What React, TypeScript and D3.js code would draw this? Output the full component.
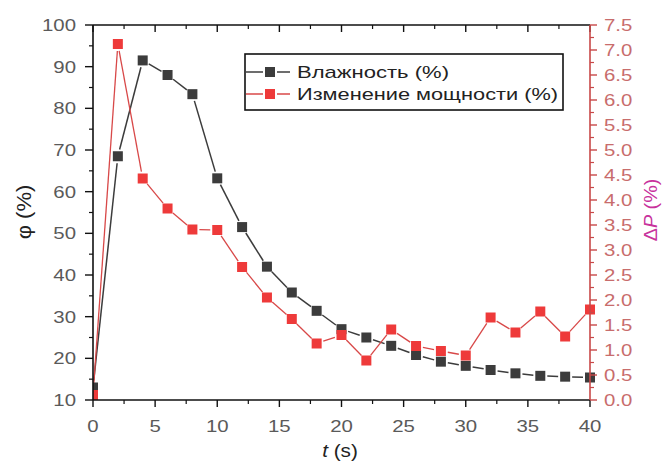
import React from "react";
import * as d3 from "d3";

const timeS = [0, 2, 4, 6, 8, 10, 12, 14, 16, 18, 20, 22, 24, 26, 28, 30, 32, 34, 36, 38, 40];
const humidity = [13, 68.5, 91.5, 88, 83.4, 63.2, 51.5, 42, 35.8, 31.4, 27, 25, 23, 20.8, 19.2, 18.2, 17.2, 16.4, 15.8, 15.6, 15.4];
const powerChange = [0.1, 7.12, 4.43, 3.83, 3.41, 3.4, 2.66, 2.05, 1.62, 1.13, 1.3, 0.79, 1.41, 1.08, 0.98, 0.89, 1.65, 1.35, 1.77, 1.27, 1.81];
const xTicks = [0, 5, 10, 15, 20, 25, 30, 35, 40];
const leftTicks = [10, 20, 30, 40, 50, 60, 70, 80, 90, 100];
const rightTicks = [0, 0.5, 1, 1.5, 2, 2.5, 3, 3.5, 4, 4.5, 5, 5.5, 6, 6.5, 7, 7.5];
const legendLabels = ["Влажность (%)", "Изменение мощности (%)"];

const W = 668, H = 465;
const L = 93, R = 590, T = 25, B = 400;
const FONT = "'Liberation Sans', Arial, sans-serif";
const SX = 1.2;

const x = d3.scaleLinear().domain([0, 40]).range([L, R]);
const yL = d3.scaleLinear().domain([10, 100]).range([B, T]);
const yR = d3.scaleLinear().domain([0, 7.5]).range([B, T]);

function gapSegments(pts: [number, number][], gap: number) {
  const segs: string[] = [];
  for (let i = 0; i < pts.length - 1; i++) {
    const [x1, y1] = pts[i];
    const [x2, y2] = pts[i + 1];
    const dx = x2 - x1, dy = y2 - y1;
    const len = Math.hypot(dx, dy);
    if (len <= 2 * gap) continue;
    const ux = dx / len, uy = dy / len;
    segs.push(`M${x1 + ux * gap},${y1 + uy * gap}L${x2 - ux * gap},${y2 - uy * gap}`);
  }
  return segs;
}

function SText({ x: tx, y: ty, anchor, size, fill, children }: any) {
  return (
    <text transform={`translate(${tx},${ty}) scale(${SX},1)`} textAnchor={anchor} fontSize={size} fill={fill} fontFamily={FONT}>
      {children}
    </text>
  );
}

export default function App() {
  const blackPts: [number, number][] = timeS.map((t, i) => [x(t), yL(humidity[i])]);
  const redPts: [number, number][] = timeS.map((t, i) => [x(t), yR(powerChange[i])]);
  const minorX = d3.range(2.5, 40, 5);
  const minorL = d3.range(15, 100, 10);
  const minorR = d3.range(0.25, 7.5, 0.5);
  const black = "#3c3c3c";
  const red = "#ee3a3a";
  const redAxis = "#c84848";
  const ms = 10;

  return (
    <svg width={W} height={H} style={{ position: "absolute", left: 0, top: 0, background: "#fff" }}>
      <defs>
        <clipPath id="plotClip">
          <rect x={L} y={T - 6} width={R - L + 6} height={B - T + 6} />
        </clipPath>
      </defs>
      <rect width={W} height={H} fill="#fff" />
      {/* series */}
      <g clipPath="url(#plotClip)">
        {gapSegments(blackPts, ms / 2 + 2).map((d, i) => (
          <path key={"bs" + i} d={d} stroke={black} strokeWidth={1.5} fill="none" />
        ))}
        {gapSegments(redPts, ms / 2 + 2).map((d, i) => (
          <path key={"rs" + i} d={d} stroke="#d84848" strokeWidth={1.3} fill="none" />
        ))}
        {blackPts.map(([px, py], i) => (
          <rect key={"bm" + i} x={px - ms / 2} y={py - ms / 2} width={ms} height={ms} fill={black} />
        ))}
        {redPts.map(([px, py], i) => (
          <rect key={"rm" + i} x={px - ms / 2} y={py - ms / 2} width={ms} height={ms} fill={red} />
        ))}
      </g>
      {/* bottom axis */}
      <line x1={L} x2={R} y1={B} y2={B} stroke="#111" strokeWidth={1.6} />
      {xTicks.map((t) => (
        <line key={"bx" + t} x1={x(t)} x2={x(t)} y1={B} y2={B + 7} stroke="#111" strokeWidth={1.4} />
      ))}
      {minorX.map((t) => (
        <line key={"bmx" + t} x1={x(t)} x2={x(t)} y1={B} y2={B + 4} stroke="#111" strokeWidth={1.2} />
      ))}
      {xTicks.map((t) => (
        <SText key={"bl" + t} x={x(t)} y={432} anchor="middle" size={17} fill="#5a5a5a">{t}</SText>
      ))}
      {/* top axis */}
      <line x1={L} x2={R} y1={T} y2={T} stroke="#111" strokeWidth={1.6} />
      {xTicks.map((t) => (
        <line key={"tx" + t} x1={x(t)} x2={x(t)} y1={T} y2={T + 7} stroke="#111" strokeWidth={1.4} />
      ))}
      {minorX.map((t) => (
        <line key={"tmx" + t} x1={x(t)} x2={x(t)} y1={T} y2={T + 4} stroke="#111" strokeWidth={1.2} />
      ))}
      {/* left axis */}
      <line x1={L} x2={L} y1={T} y2={B} stroke="#111" strokeWidth={1.6} />
      {leftTicks.map((v) => (
        <line key={"ly" + v} x1={L - 8} x2={L} y1={yL(v)} y2={yL(v)} stroke="#111" strokeWidth={1.4} />
      ))}
      {minorL.map((v) => (
        <line key={"lmy" + v} x1={L - 4} x2={L} y1={yL(v)} y2={yL(v)} stroke="#111" strokeWidth={1.2} />
      ))}
      {leftTicks.map((v) => (
        <SText key={"ll" + v} x={76} y={yL(v) + 6} anchor="end" size={17} fill="#5a5a5a">{v}</SText>
      ))}
      <text transform={`translate(31,212) rotate(-90) scale(1.1,1)`} textAnchor="middle" fontSize={20} fill="#222" fontFamily={FONT}>φ (%)</text>
      {/* right axis */}
      <line x1={R} x2={R} y1={T} y2={B} stroke={redAxis} strokeWidth={1.6} />
      {rightTicks.map((v) => (
        <line key={"ry" + v} x1={R} x2={R + 7} y1={yR(v)} y2={yR(v)} stroke={redAxis} strokeWidth={1.4} />
      ))}
      {minorR.map((v) => (
        <line key={"rmy" + v} x1={R} x2={R + 4} y1={yR(v)} y2={yR(v)} stroke={redAxis} strokeWidth={1.2} />
      ))}
      {rightTicks.map((v) => (
        <SText key={"rl" + v} x={604} y={yR(v) + 6} anchor="start" size={17} fill="#c86c6c">{v.toFixed(1)}</SText>
      ))}
      <text transform={`translate(657,210) rotate(-90) scale(1.1,1)`} textAnchor="middle" fontSize={18} fill="#c8329c" fontFamily={FONT}>
        Δ<tspan fontStyle="italic">P</tspan> (%)
      </text>
      {/* x title */}
      <text transform={`translate(340,457) scale(1.15,1)`} textAnchor="middle" fontSize={18} fill="#222" fontFamily={FONT}>
        <tspan fontStyle="italic">t</tspan> (s)
      </text>
      {/* legend */}
      <rect x={245} y={54} width={318} height={56} fill="#fff" stroke="#111" strokeWidth={1.6} />
      {legendLabels.map((lab, i) => {
        const ly = 72 + i * 22;
        const col = i === 0 ? black : red;
        const lineCol = i === 0 ? black : "#d84848";
        return (
          <g key={"lg" + i}>
            <line x1={246} x2={263} y1={ly} y2={ly} stroke={lineCol} strokeWidth={1.5} />
            <line x1={277} x2={290} y1={ly} y2={ly} stroke={lineCol} strokeWidth={1.5} />
            <rect x={265} y={ly - 5} width={10} height={10} fill={col} />
            <text x={297} y={ly + 6} fontSize={17} fill="#222" fontFamily={FONT} textLength={i === 0 ? 152 : 261} lengthAdjust="spacingAndGlyphs">{lab}</text>
          </g>
        );
      })}
    </svg>
  );
}
